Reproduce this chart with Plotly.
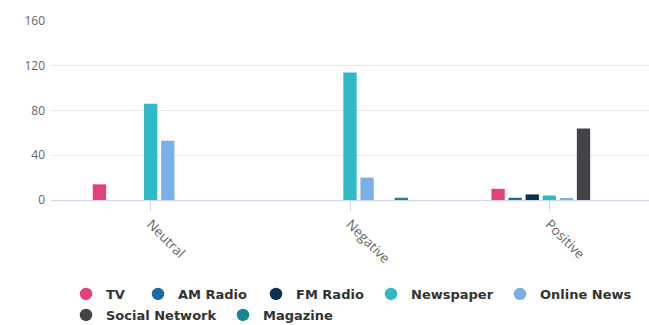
import plotly.graph_objects as go

categories = ["Neutral", "Negative", "Positive"]
series_names = ["TV", "AM Radio", "FM Radio", "Newspaper", "Online News", "Social Network", "Magazine"]
tv = [14, 0, 10]
am_radio = [0, 0, 2]
fm_radio = [0, 0, 5]
newspaper = [86, 114, 4]
online_news = [53, 20, 1.5]
social_network = [0, 0, 64]
magazine = [0, 2, 0]
series_values = [tv, am_radio, fm_radio, newspaper, online_news, social_network, magazine]
colors = ["#e4407b", "#1f6aa5", "#0e3150", "#2fbac6", "#7cb1e8", "#434348", "#16878e"]
y_ticks = [0, 40, 80, 120, 160]

# legend entry placement (pixels from left / from top of the 649x325 page)
legend_text_x = [103, 175, 293, 408, 537, 103, 260]
legend_row_y = [294, 294, 294, 294, 294, 315, 315]
W, H = 649, 325

fig = go.Figure()
for i, (name, vals, col) in enumerate(zip(series_names, series_values, colors)):
    lg = "legend" if i == 0 else "legend%d" % (i + 1)
    fig.add_trace(go.Bar(
        x=categories, y=vals, name=name, showlegend=False,
        marker=dict(color=col, line=dict(width=0)),
    ))
    fig.add_trace(go.Scatter(
        x=[None], y=[None], mode="markers", name=name, legend=lg,
        marker=dict(symbol="circle", size=12.5, color=col),
        showlegend=True,
    ))

legend_common = dict(
    orientation="h", xanchor="left", yanchor="middle",
    xref="container", yref="container",
    bgcolor="rgba(0,0,0,0)", borderwidth=0,
    font=dict(family="DejaVu Sans", size=13, color="#333333", weight="bold"),
    itemwidth=30,
)
legends = {}
for i in range(len(series_names)):
    key = "legend" if i == 0 else "legend%d" % (i + 1)
    lx = (legend_text_x[i] - 37) / W
    ly = (H - legend_row_y[i]) / H
    legends[key] = dict(legend_common, x=lx, y=ly)

fig.update_layout(
    width=W, height=H,
    margin=dict(l=51, r=0, t=21, b=125, autoexpand=False),
    paper_bgcolor="white", plot_bgcolor="white",
    barmode="group", bargap=0.40, bargroupgap=0.22,
    font=dict(family="Open Sans", color="#333333"),
    showlegend=True,
    xaxis=dict(
        type="category", tickangle=45,
        tickfont=dict(family="Open Sans", size=13.5, color="#666666"),
        showline=True, linecolor="#ccd6eb", linewidth=1,
        ticks="outside", ticklen=10, tickcolor="#ccd6eb",
        showgrid=False, zeroline=False,
    ),
    yaxis=dict(
        range=[0, 160], tickvals=y_ticks,
        tickfont=dict(family="Open Sans", size=12, color="#666666"),
        showgrid=True, gridcolor="#e6e6e6", gridwidth=1,
        zeroline=False, showline=False, ticks="", ticklabelstandoff=5,
    ),
    **legends,
)

fig.write_html("out.html")
